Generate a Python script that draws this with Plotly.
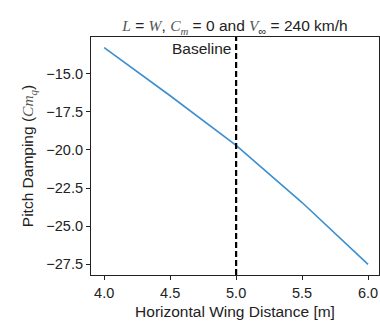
import plotly.graph_objects as go

# Horizontal wing distance sweep and resulting pitch damping coefficient
wing_distance = [4.0, 4.5, 5.0, 5.5, 6.0]
pitch_damping = [-13.3, -16.45, -19.7, -23.45, -27.5]
baseline_distance = 5.0

x_ticks = [4.0, 4.5, 5.0, 5.5, 6.0]
y_ticks = [-15.0, -17.5, -20.0, -22.5, -25.0, -27.5]

font_family = "Liberation Sans, Arial, sans-serif"
math = "font-family:'Liberation Serif', 'DejaVu Serif', serif;font-style:italic;fill:#555"

fig = go.Figure()
fig.add_trace(go.Scatter(
    x=wing_distance, y=pitch_damping, mode="lines",
    line=dict(color="#3b8fd0", width=1.6), showlegend=False,
))

fig.add_shape(
    type="line", xref="x", yref="paper",
    x0=baseline_distance, x1=baseline_distance, y0=0, y1=1,
    line=dict(color="black", width=2.2, dash="6px,3px"),
)
fig.add_annotation(
    x=baseline_distance, xref="x", y=0.95, yref="paper",
    text="Baseline", showarrow=False, xanchor="right", yanchor="middle",
    xshift=-3, font=dict(size=15.5, color="#222", family=font_family),
)

title = (f"<span style=\"{math}\">L</span> = <span style=\"{math}\">W</span>, "
         f"<span style=\"{math}\">C<sub>m</sub></span> = 0 and "
         f"<span style=\"{math}\">V</span><sub>∞</sub> = 240 km/h")

fig.update_layout(
    width=380, height=323,
    margin=dict(l=91, r=1, t=37, b=48),
    paper_bgcolor="white", plot_bgcolor="white",
    font=dict(family=font_family, size=14.5, color="#222"),
    title=dict(text=title, xref="paper", x=0.5, xanchor="center",
               y=0.92, yref="container", yanchor="middle",
               font=dict(size=15.5, color="#222")),
)
fig.update_xaxes(
    range=[3.9, 6.083], tickvals=x_ticks, ticktext=[f"{v:.1f}" for v in x_ticks],
    showgrid=False, zeroline=False, showline=True, linecolor="#222", linewidth=1.2,
    mirror=True, ticks="outside", ticklen=4, tickcolor="#222",
    tickfont=dict(size=14.5),
    title=dict(text="Horizontal Wing Distance [m]", standoff=6, font=dict(size=15.5)),
)
fig.update_yaxes(
    range=[-28.2, -12.6], tickvals=y_ticks, ticktext=[f"{v:.1f}".replace("-", "−") for v in y_ticks],
    showgrid=False, zeroline=False, showline=True, linecolor="#222", linewidth=1.2,
    mirror=True, ticks="outside", ticklen=4, tickcolor="#222",
    tickfont=dict(size=14.5),
    title=dict(text=f"Pitch Damping (<span style=\"{math}\">Cm<sub>q</sub></span>)",
               standoff=8, font=dict(size=15.5)),
)

fig.write_html("out.html")
